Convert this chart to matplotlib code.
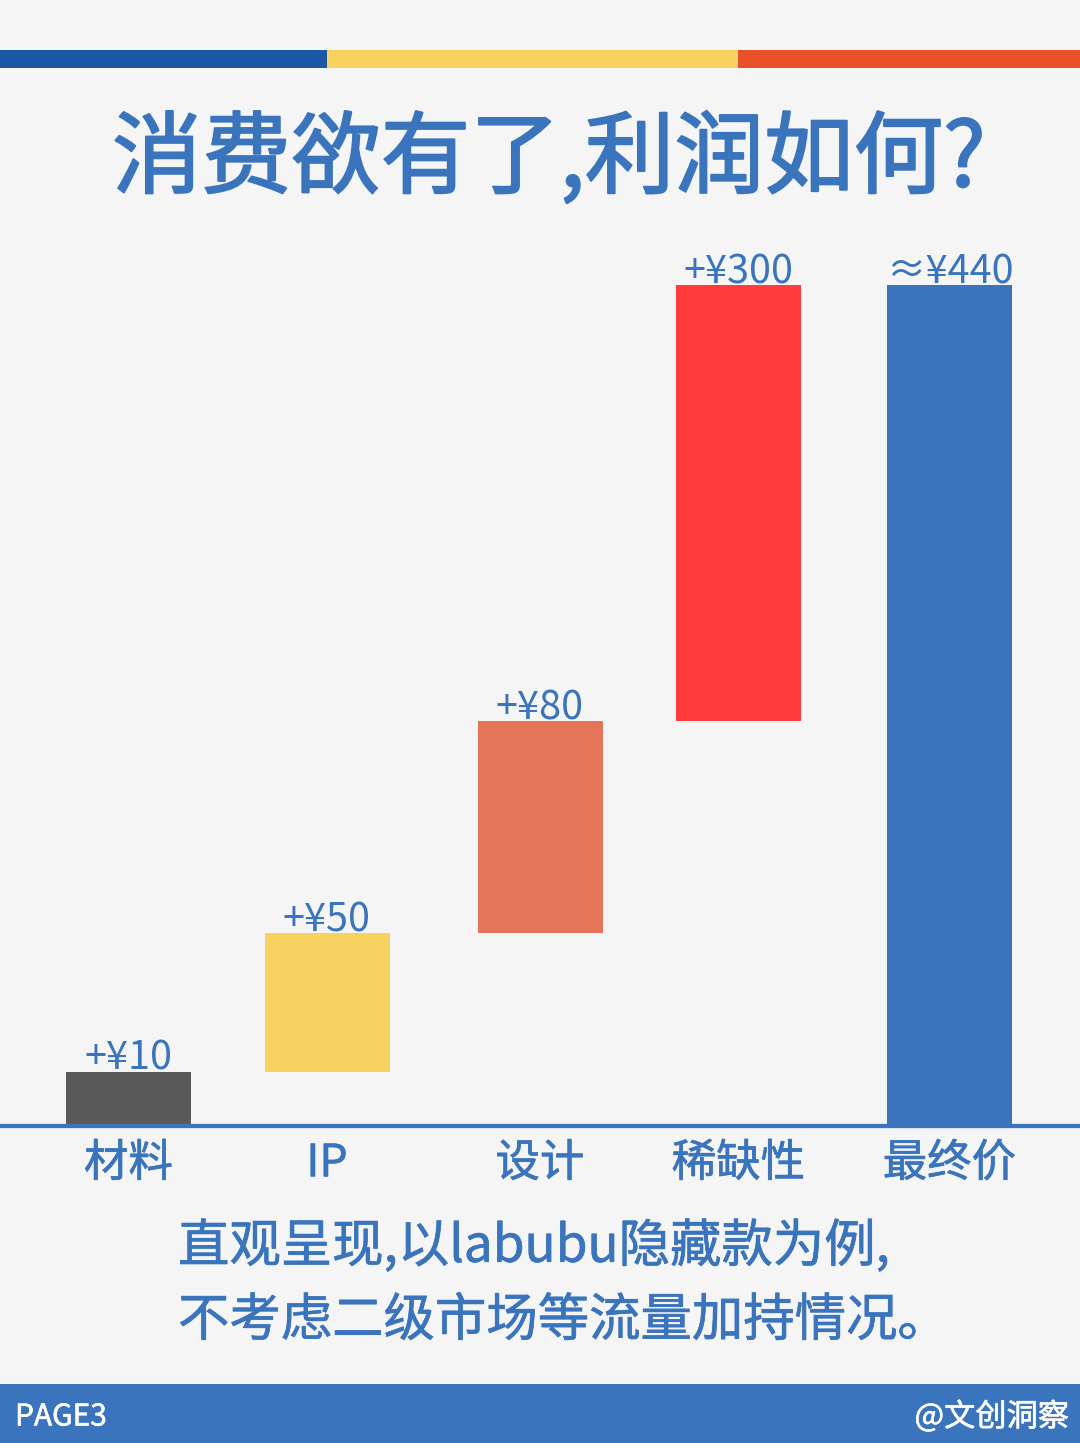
import numpy as np
import matplotlib
matplotlib.use('Agg')
import matplotlib.pyplot as plt
import matplotlib.patheffects as pe
from matplotlib.patches import Rectangle

plt.rcParams['font.family'] = ['Noto Sans CJK SC', 'DejaVu Sans']

categories = ['材料', 'IP', '设计', '稀缺性', '最终价']
bottoms = [0, 10, 60, 140, 0]
heights = [10, 50, 80, 300, 440]
centers = [128.5, 327, 540, 738.5, 949.5]
value_labels = ['+¥10', '+¥50', '+¥80', '+¥300', '≈¥440']
bar_colors = ['#595959', '#F7D261', '#E57558', '#FF3B3B', '#3A74BC']
# the original chart is not drawn to a linear scale
scale_values = [0, 10, 60, 140, 440]
scale_pixels = [0, 53, 192, 404, 840]
BLUE = '#3A74BC'
BG = '#F5F5F5'

W, H = 1080, 1443
fig = plt.figure(figsize=(W/100, H/100), dpi=100, facecolor=BG)

def heavier(color, width):
    return [pe.withStroke(linewidth=width, foreground=color)]

bg = fig.add_axes([0, 0, 1, 1], zorder=0)
bg.set_xlim(0, W); bg.set_ylim(H, 0); bg.axis('off')
bg.add_patch(Rectangle((0, 50), 327, 18, color='#1A58A6', lw=0))
bg.add_patch(Rectangle((327, 50), 411, 18, color='#F7D261', lw=0))
bg.add_patch(Rectangle((738, 50), 342, 18, color='#E95129', lw=0))
bg.add_patch(Rectangle((0, 1384), W, 59, color=BLUE, lw=0))

bg.text(549, 161, '消费欲有了,利润如何?', color=BLUE, fontsize=64.5,
        ha='center', va='center', path_effects=heavier(BLUE, 1.4))
bg.text(178, 1247, '直观呈现,以labubu隐藏款为例,', color=BLUE, fontsize=37, ha='left', va='center',
        path_effects=heavier(BLUE, 0.5))
bg.text(178, 1321, '不考虑二级市场等流量加持情况。', color=BLUE, fontsize=37, ha='left', va='center',
        path_effects=heavier(BLUE, 0.5))
bg.text(15, 1417, 'PAGE3', color='white', fontsize=21.5, ha='left', va='center',
        path_effects=heavier('white', 0.4))
bg.text(1069, 1417, '@文创洞察', color='white', fontsize=22.5, ha='right', va='center',
        path_effects=heavier('white', 0.4))

ax_top, ax_bot = 285, 1125
ax = fig.add_axes([0, 1-ax_bot/H, 1, (ax_bot-ax_top)/H], zorder=1)
ax.patch.set_alpha(0)
ax.set_xlim(0, W)
ax.set_yscale('function', functions=(
    lambda v: np.interp(v, scale_values, scale_pixels),
    lambda p: np.interp(p, scale_pixels, scale_values)))
ax.set_ylim(0, 440)
for s in ['top', 'left', 'right']:
    ax.spines[s].set_visible(False)
ax.spines['bottom'].set_color(BLUE)
ax.spines['bottom'].set_linewidth(3.1)
ax.spines['bottom'].set_position(('outward', 1))
ax.bar(centers, heights, bottom=bottoms, width=125, color=bar_colors, linewidth=0)
for c, b, h, t in zip(centers, bottoms, heights, value_labels):
    ax.annotate(t, (c, b+h), xytext=(0, -7), textcoords='offset pixels', ha='center', va='bottom',
                color=BLUE, fontsize=28.5, clip_on=False)
ax.set_yticks([]); ax.minorticks_off()
ax.set_xticks(centers)
ax.set_xticklabels(categories, fontsize=32, color=BLUE)
for lab in ax.get_xticklabels():
    lab.set_path_effects(heavier(BLUE, 0.5))
ax.tick_params(axis='x', length=0, pad=10)

fig.savefig('out.png', dpi=100, facecolor=BG)
